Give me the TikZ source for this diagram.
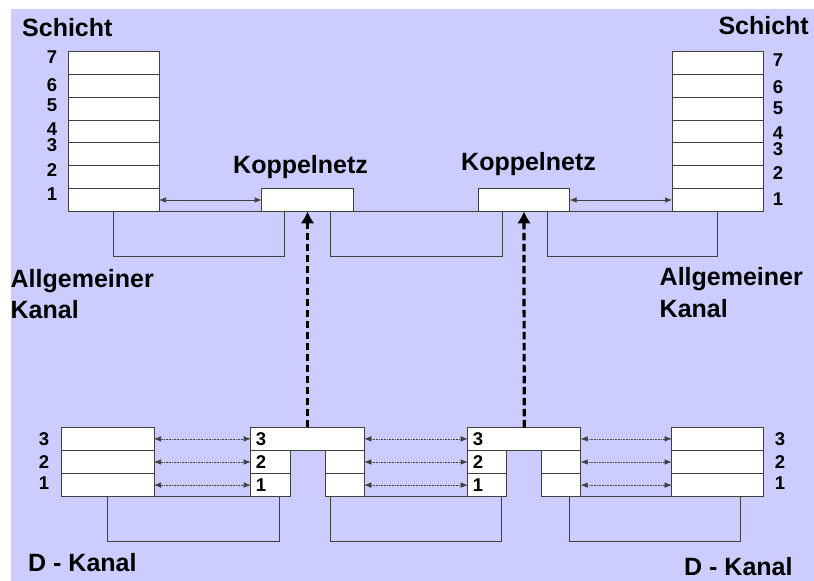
\documentclass[tikz,border=0pt]{standalone}
\usepackage{fontspec}
\setmainfont{Liberation Sans}
\usetikzlibrary{arrows.meta}
\usetikzlibrary{positioning}
\definecolor{lavendel}{RGB}{204,204,255}
\definecolor{linie}{RGB}{64,64,64}
\tikzset{
	>={Latex[length=7pt,width=5.5pt]},
	schicht/.style={
		rectangle,
		draw=linie, fill=white,
		line width=0.8pt,
		minimum width=91pt,
		minimum height=22.86pt,
		inner sep=0pt, outer sep=0pt},
	dbox/.style={schicht, minimum height=23.1pt},
	titel/.style={font=\fontsize{25}{25}\selectfont\bfseries, inner sep=0pt},
	nummer/.style={font=\fontsize{18.5}{18.5}\selectfont\bfseries, inner sep=0pt},
	schleife/.style={draw=linie, line width=0.8pt},
	pfeil/.style={draw=linie, line width=0.7pt, <->},
	punktpfeil/.style={draw=linie, line width=0.6pt, densely dotted, <->},
	steuerpfeil/.style={draw=black, line width=3.2pt, dash pattern=on 7.5pt off 3.5pt,
		-{Latex[length=12pt,width=14pt]}},
}
\begin{document}
\begin{tikzpicture}[x=1pt, y=-1pt]
	\useasboundingbox (0,0) rectangle (814,581);
	\fill[lavendel] (11,9) rectangle (814,581);
	% Schichten 1-7
	\foreach \i in {1,...,7} {
		\node[schicht] (ls\i) at (113.5,{200-(\i-1)*22.86}) {};
		\node[schicht] (rs\i) at (717.5,{200-(\i-1)*22.86}) {};
	}
	\node[schicht, minimum width=91.6pt] (kl) at (307.5,200) {};
	\node[schicht, minimum width=91pt] (kr) at (524,200) {};
	% allgemeiner Kanal
	\draw[schleife] (ls1.south) rectangle ([xshift=-23.5pt,yshift=-45pt]kl.south);
	\draw[schleife] ([xshift=22.5pt]kl.south) rectangle ([xshift=-22pt,yshift=-45pt]kr.south);
	\draw[schleife] ([xshift=23pt]kr.south) rectangle ([yshift=-45pt]rs1.south);
	\draw[pfeil] (ls1.east) -- (kl.west);
	\draw[pfeil] (kr.east) -- (rs1.west);
	% D-Kanal
	\foreach \i/\y in {1/485.1,2/462,3/438.9} {
		\node[dbox, minimum width=92.3pt] (ld\i) at (107.85,\y) {};
		\node[dbox, minimum width=91.6pt] (rd\i) at (717.5,\y) {};
	}
	\node[dbox, minimum width=113.6pt] (mlt) at (307.5,438.9) {};
	\node[dbox, minimum width=113pt] (mrt) at (524.2,438.9) {};
	\foreach \i/\y in {1/485.1,2/462} {
		\node[dbox, minimum width=39.3pt] (mll\i) at (270.35,\y) {};
		\node[dbox, minimum width=39.3pt] (mlr\i) at (344.65,\y) {};
		\node[dbox, minimum width=39pt] (mrl\i) at (487.2,\y) {};
		\node[dbox, minimum width=39pt] (mrr\i) at (561.2,\y) {};
	}
	\draw[schleife] (ld1.south) rectangle ([xshift=9pt,yshift=-45pt]mll1.south);
	\draw[schleife] ([xshift=-14.6pt]mlr1.south) rectangle ([xshift=14.5pt,yshift=-45pt]mrl1.south);
	\draw[schleife] ([xshift=8pt]mrr1.south) rectangle ([xshift=22.8pt,yshift=-45pt]rd1.south);
	\foreach \i in {1,2} {
		\draw[punktpfeil] (ld\i.east) -- (mll\i.west);
		\draw[punktpfeil] (mlr\i.east) -- (mrl\i.west);
		\draw[punktpfeil] (mrr\i.east) -- (rd\i.west);
	}
	\draw[punktpfeil] (ld3.east) -- (mlt.west);
	\draw[punktpfeil] (mlt.east) -- (mrt.west);
	\draw[punktpfeil] (mrt.east) -- (rd3.west);
	\draw[steuerpfeil] (mlt.north) -- (kl.south);
	\draw[steuerpfeil] (mrt.north) -- (kr.south);
	% Beschriftung
	\node[nummer, anchor=west] (nl3) at ([xshift=5pt]mlt.west) {3};
	\node[nummer, anchor=west] (nl2) at ([xshift=5pt]mll2.west) {2};
	\node[nummer, anchor=west] (nl1) at ([xshift=5pt]mll1.west) {1};
	\node[nummer, anchor=west] (nr3) at ([xshift=5pt]mrt.west) {3};
	\node[nummer, anchor=west] (nr2) at ([xshift=5pt]mrl2.west) {2};
	\node[nummer, anchor=west] (nr1) at ([xshift=5pt]mrl1.west) {1};
	\foreach \n/\y in {7/56.7,6/85,5/105,4/129.5,3/145.5,2/170.5,1/194}
		\node[nummer] (lz\n) at (52,\y) {\n};
	\foreach \n/\y in {7/59.7,6/86.7,5/108.3,4/133.5,3/149.5,2/173.5,1/199}
		\node[nummer] (rz\n) at (778,\y) {\n};
	\foreach \n/\y in {3/439,2/462.5,1/483} {
		\node[nummer] (ldz\n) at (44,\y) {\n};
		\node[nummer] (rdz\n) at (780,\y) {\n};
	}
	\node[titel, anchor=base west] (lschicht) at (22,36.7) {Schicht};
	\node[titel, anchor=base east] (rschicht) at (809,34) {Schicht};
	\node[titel, anchor=base west] (kltext) at (233,173.3) {Koppelnetz};
	\node[titel, anchor=base west] (krtext) at (461,170.7) {Koppelnetz};
	\node[titel, anchor=base west] (lallg) at (10.5,287) {Allgemeiner};
	\node[titel, anchor=base west] (lkanal) at (10.5,318.3) {Kanal};
	\node[titel, anchor=base west] (rallg) at (659.5,285) {Allgemeiner};
	\node[titel, anchor=base west] (rkanal) at (659.5,317) {Kanal};
	\node[titel, anchor=base west] (ldk) at (28,571.7) {D - Kanal};
	\node[titel, anchor=base west] (rdk) at (684,575) {D - Kanal};
\end{tikzpicture}
\end{document}
